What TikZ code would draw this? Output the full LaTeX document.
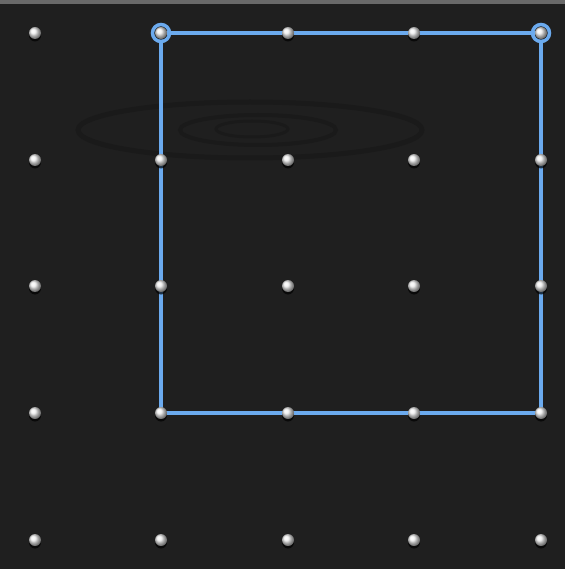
\documentclass[tikz,border=0pt]{standalone}
\usepackage{tikz}
\usetikzlibrary{shadows, backgrounds}

\definecolor{board}{RGB}{31,31,31}
\definecolor{grain}{RGB}{26,26,26}
\definecolor{topbar}{RGB}{105,105,105}
\definecolor{bandblue}{RGB}{107,170,238}

\begin{document}
\begin{tikzpicture}[x=1pt, y=-1pt,
    peg/.style={circle, inner sep=0pt, minimum size=12pt, shading=ball, ball color=white!88!gray,
        drop shadow={shadow xshift=0pt, shadow yshift=-2.5pt, opacity=0.7, fill=black}},
    band/.style={draw=bandblue, line width=3.3pt, line join=miter},
    ring/.style={draw=bandblue, line width=3.5pt}]
                \useasboundingbox (0, 0) rectangle (565, 569);

                \node[peg] (p11) at (35, 33) {};
                \node[peg] (p12) at (161, 33) {};
                \node[peg] (p13) at (288, 33) {};
                \node[peg] (p14) at (414, 33) {};
                \node[peg] (p15) at (541, 33) {};
                \node[peg] (p21) at (35, 160) {};
                \node[peg] (p22) at (161, 160) {};
                \node[peg] (p23) at (288, 160) {};
                \node[peg] (p24) at (414, 160) {};
                \node[peg] (p25) at (541, 160) {};
                \node[peg] (p31) at (35, 286) {};
                \node[peg] (p32) at (161, 286) {};
                \node[peg] (p33) at (288, 286) {};
                \node[peg] (p34) at (414, 286) {};
                \node[peg] (p35) at (541, 286) {};
                \node[peg] (p41) at (35, 413) {};
                \node[peg] (p42) at (161, 413) {};
                \node[peg] (p43) at (288, 413) {};
                \node[peg] (p44) at (414, 413) {};
                \node[peg] (p45) at (541, 413) {};
                \node[peg] (p51) at (35, 540) {};
                \node[peg] (p52) at (161, 540) {};
                \node[peg] (p53) at (288, 540) {};
                \node[peg] (p54) at (414, 540) {};
                \node[peg] (p55) at (541, 540) {};

                \begin{scope}[on background layer]
                    \fill[board] (0, 0) rectangle (565, 569);
                    \draw[grain, line width=5pt] (250, 130) ellipse[x radius=172, y radius=28];
                    \draw[grain, line width=4pt] (258, 130) ellipse[x radius=78, y radius=15];
                    \draw[grain, line width=3pt] (252, 129) ellipse[x radius=36, y radius=8];
                    \fill[topbar] (0, 0) rectangle (565, 4);
                    \draw[band] (p12.center) -- (p15.center) -- (p45.center) -- (p42.center) -- cycle;
                \end{scope}

                \draw[ring] (p12.center) circle[radius=8.5];
                \draw[ring] (p15.center) circle[radius=8.5];
            \end{tikzpicture}
\end{document}
